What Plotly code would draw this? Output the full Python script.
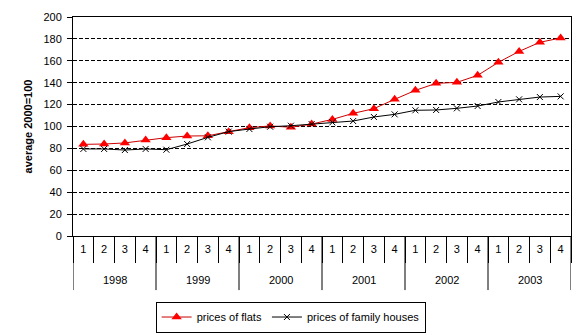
import plotly.graph_objects as go

years = ["1998", "1999", "2000", "2001", "2002", "2003"]
quarters = ["1", "2", "3", "4"]
flats = [83.7, 84, 85, 87.7, 89.8, 91.3, 91.5, 95.3, 98.9, 100.5, 99.3, 102.2,
         106.5, 112, 116.3, 124.8, 133, 139.4, 140.3, 146.7, 158.6, 168.6, 176.9, 180.8]
houses = [79.5, 79.5, 78.5, 79.5, 78.8, 84, 90.1, 95.3, 97.7, 99.8, 100.7, 102.2,
          103.8, 105, 108.7, 111.1, 114.8, 115.1, 116.6, 118.7, 122.4, 124.8, 126.9, 127.5]
yticks = list(range(0, 201, 20))

xcat = [f"{y}-{q}" for y in years for q in quarters]
xlab = [q for _ in years for q in quarters]
nq = len(quarters)

fig = go.Figure()
fig.add_trace(go.Scatter(
    x=xcat, y=flats, name="prices of flats", mode="lines+markers",
    line=dict(color="#CC0000", width=1),
    marker=dict(symbol="triangle-up", size=9, color="#FF0000"),
))
fig.add_trace(go.Scatter(
    x=xcat, y=houses, name="prices of family houses", mode="lines+markers",
    line=dict(color="#000000", width=1),
    marker=dict(symbol="x-thin-open", size=6, color="#000000", line=dict(color="#000000", width=1)),
))

# year dividers and labels
for k, yr in enumerate(years + [None]):
    xb = k * nq - 0.5
    fig.add_shape(type="line", xref="x", yref="paper", x0=xb, x1=xb, y0=0, y1=-0.247,
                  line=dict(color="black", width=1))
    if yr is not None:
        fig.add_annotation(x=k * nq + (nq - 1) / 2, y=-0.201, xref="x", yref="paper",
                           text=yr, showarrow=False, font=dict(size=11),
                           xanchor="center", yanchor="middle")

fig.update_layout(
    width=577, height=335,
    margin=dict(l=73, r=6, t=17, b=99, autoexpand=False),
    paper_bgcolor="white", plot_bgcolor="white",
    font=dict(family="Liberation Sans, Arial, sans-serif", size=11, color="black"),
    showlegend=True,
    legend=dict(orientation="h", x=0.437, xanchor="center", y=-0.370, yanchor="middle",
                bordercolor="black", borderwidth=1, font=dict(size=11),
                tracegroupgap=0, itemwidth=30),
    xaxis=dict(
        type="category", automargin=False,
        tickvals=xcat, ticktext=xlab,
        showline=True, linecolor="black", linewidth=1, mirror=True,
        ticks="outside", tickson="boundaries", ticklen=26, tickcolor="black",
        ticklabelstandoff=3,
        showgrid=False, range=[-0.5, len(xcat) - 0.5],
    ),
    yaxis=dict(
        range=[0, 200], tickvals=yticks, automargin=False,
        showline=True, linecolor="black", linewidth=1,
        mirror=True, ticks="outside", ticklen=5, tickcolor="black",
        ticklabelstandoff=3,
        showgrid=True, gridcolor="black", griddash="4px,2px", gridwidth=1,
        zeroline=False,
        title=dict(text="<b>average 2000=100</b>", font=dict(size=11), standoff=8),
    ),
)

fig.write_html("out.html")
